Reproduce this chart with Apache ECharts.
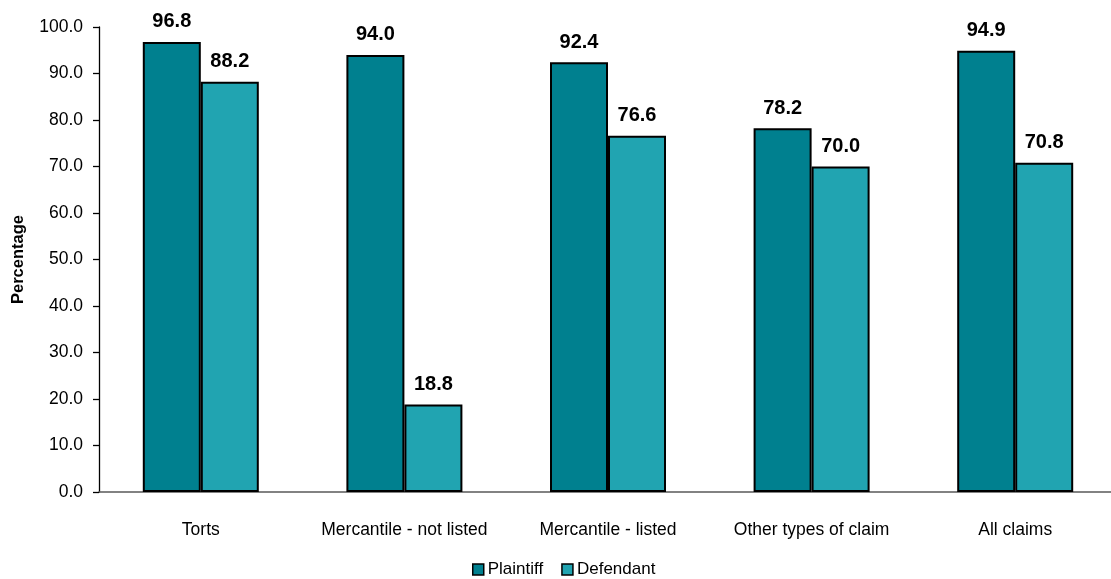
<!DOCTYPE html>
<html>
<head>
<meta charset="utf-8">
<script src="https://cdn.jsdelivr.net/npm/echarts@6/dist/echarts.min.js"></script>
<style>
  html, body { margin: 0; padding: 0; background: #ffffff; }
  #chart { width: 1111px; height: 579px; }
</style>
</head>
<body>
<div id="chart"></div>
<script>
// Claim categories along the x axis
const categories = ['Torts', 'Mercantile - not listed', 'Mercantile - listed', 'Other types of claim', 'All claims'];
// Percentages for each party
const plaintiff = [96.8, 94.0, 92.4, 78.2, 94.9];
const defendant = [88.2, 18.8, 76.6, 70.0, 70.8];
const seriesNames = ['Plaintiff', 'Defendant'];
const yTicks = { min: 0, max: 100, interval: 10 };

const FONT = 'Liberation Sans, Arial, sans-serif';
const colors = ['#00808F', '#21A4B1'];

const chart = echarts.init(document.getElementById('chart'), null, { renderer: 'canvas' });

function barSeries(name, data, color) {
  return {
    name: name,
    type: 'bar',
    data: data,
    barWidth: 58,
    barGap: '0%',
    itemStyle: { color: color, borderColor: '#000000', borderWidth: 2 },
    label: {
      show: true,
      position: 'top',
      distance: 10,
      fontFamily: FONT,
      fontSize: 20,
      fontWeight: 'bold',
      color: '#000000',
      formatter: p => p.value.toFixed(1)
    }
  };
}

chart.setOption({
  animation: false,
  color: colors,
  grid: { left: 99, top: 27, bottom: 87, width: 1018, outerBoundsMode: 'none' },
  legend: {
    data: seriesNames,
    left: 467,
    top: 556,
    itemWidth: 11,
    itemHeight: 11,
    itemGap: 18,
    icon: 'rect',
    itemStyle: { borderColor: '#000000', borderWidth: 1.5 },
    textStyle: { fontFamily: FONT, fontSize: 17, color: '#000000', padding: [0, 0, 0, -1] }
  },
  xAxis: {
    type: 'category',
    data: categories,
    axisLine: { lineStyle: { color: '#5a5a5a', width: 1.5 } },
    axisTick: { show: false },
    axisLabel: { fontFamily: FONT, fontSize: 17.5, color: '#000000', margin: 29, interval: 0 }
  },
  yAxis: {
    type: 'value',
    min: yTicks.min,
    max: yTicks.max,
    interval: yTicks.interval,
    name: 'Percentage',
    nameLocation: 'middle',
    nameGap: 72,
    nameTextStyle: { fontFamily: FONT, fontSize: 16.5, fontWeight: 'bold', color: '#000000' },
    axisLine: { show: true, lineStyle: { color: '#000000', width: 1.3 } },
    axisTick: { show: true, length: 6, lineStyle: { color: '#000000', width: 1.3 } },
    splitLine: { show: false },
    axisLabel: {
      fontFamily: FONT, fontSize: 17.5, color: '#000000', margin: 16,
      formatter: v => v.toFixed(1)
    }
  },
  series: [
    barSeries(seriesNames[0], plaintiff, colors[0]),
    barSeries(seriesNames[1], defendant, colors[1])
  ]
});
</script>
</body>
</html>
